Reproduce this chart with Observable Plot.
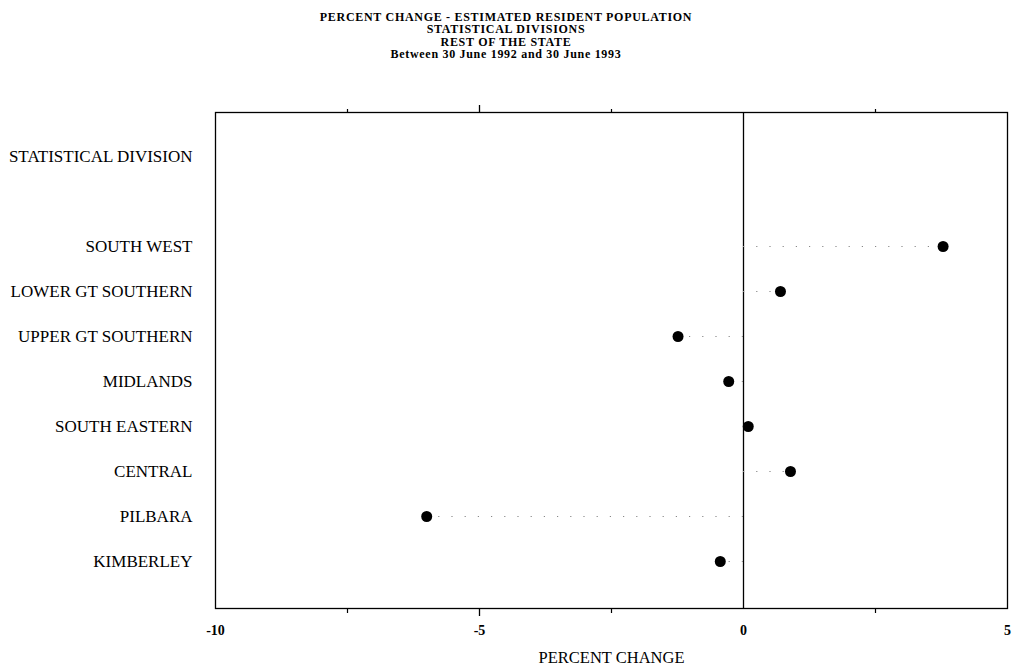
<!DOCTYPE html>
<html>
<head>
<meta charset="utf-8">
<script src="https://cdn.jsdelivr.net/npm/d3@7"></script>
<script src="https://cdn.jsdelivr.net/npm/@observablehq/plot@0.6"></script>
<style>
  html, body { margin: 0; padding: 0; background: #fff; }
  #title {
    width: 1012px; height: 90px; box-sizing: border-box; padding-top: 11px;
    text-align: center; font-family: "Liberation Serif", "DejaVu Serif", serif;
    font-weight: bold; font-size: 12px; line-height: 12.3px; letter-spacing: 0.7px; color: #000;
  }
  #chart svg { display: block; }
</style>
</head>
<body>
<div id="title">
  <div>PERCENT CHANGE - ESTIMATED RESIDENT POPULATION</div>
  <div>STATISTICAL DIVISIONS</div>
  <div>REST OF THE STATE</div>
  <div>Between 30 June 1992 and 30 June 1993</div>
</div>
<div id="chart"></div>
<script>
const header = "STATISTICAL DIVISION";
const divisions = ["SOUTH WEST", "LOWER GT SOUTHERN", "UPPER GT SOUTHERN", "MIDLANDS",
                   "SOUTH EASTERN", "CENTRAL", "PILBARA", "KIMBERLEY"];
const percentChange = [3.78, 0.70, -1.24, -0.28, 0.09, 0.89, -6.0, -0.44];
const labelTicks = [-10, -5, 0, 5];
const majorTicks = [-5];
const minorTicks = [-7.5, -2.5, 2.5];
const xLabel = "PERCENT CHANGE";

const data = divisions.map((d, i) => ({division: d, value: percentChange[i]}));
const yDomain = [header, "\u00a0", ...divisions];
const serif = "Liberation Serif, DejaVu Serif, serif";

const chart = Plot.plot({
  width: 1012,
  height: 576,
  marginLeft: 215,
  marginRight: 5,
  marginTop: 22,
  marginBottom: 58,
  style: {fontFamily: serif, background: "#fff", color: "#000"},
  x: {domain: [-10, 5]},
  y: {type: "point", domain: yDomain, padding: 0, insetTop: 42, insetBottom: 46},
  marks: [
    Plot.frame({stroke: "#000", strokeWidth: 1.3}),
    Plot.ruleX([0], {stroke: "#000", strokeWidth: 1.3}),
    Plot.ruleY(data, {y: "division", x1: 0, x2: "value", stroke: "#888", strokeWidth: 1, strokeDasharray: "1.2,12"}),
    Plot.dot(data, {x: "value", y: "division", r: 5.5, fill: "#000", stroke: "none"}),
    Plot.axisY({tickSize: 0, tickPadding: 23, fontSize: 17, fontFamily: serif, label: null,
                tickFormat: d => d.trim()}),
    Plot.axisX({anchor: "bottom", ticks: labelTicks, tickSize: 0, tickPadding: 17, fontSize: 14,
                fontWeight: "bold", fontFamily: serif, label: null, tickFormat: d => String(d)}),
    Plot.axisX({anchor: "bottom", ticks: majorTicks, tickSize: 8, tickFormat: () => "", label: null, strokeWidth: 1.3}),
    Plot.axisX({anchor: "bottom", ticks: minorTicks, tickSize: 5, tickFormat: () => "", label: null, strokeWidth: 1.2}),
    Plot.axisX({anchor: "top", ticks: majorTicks, tickSize: 8, tickFormat: () => "", label: null, strokeWidth: 1.3}),
    Plot.axisX({anchor: "top", ticks: minorTicks, tickSize: 4, tickFormat: () => "", label: null, strokeWidth: 1.2}),
    Plot.text([xLabel], {frameAnchor: "bottom", dy: 49, text: d => d, fontSize: 16.5, fontFamily: serif, lineAnchor: "middle"})
  ]
});
document.getElementById("chart").appendChild(chart);
</script>
</body>
</html>
